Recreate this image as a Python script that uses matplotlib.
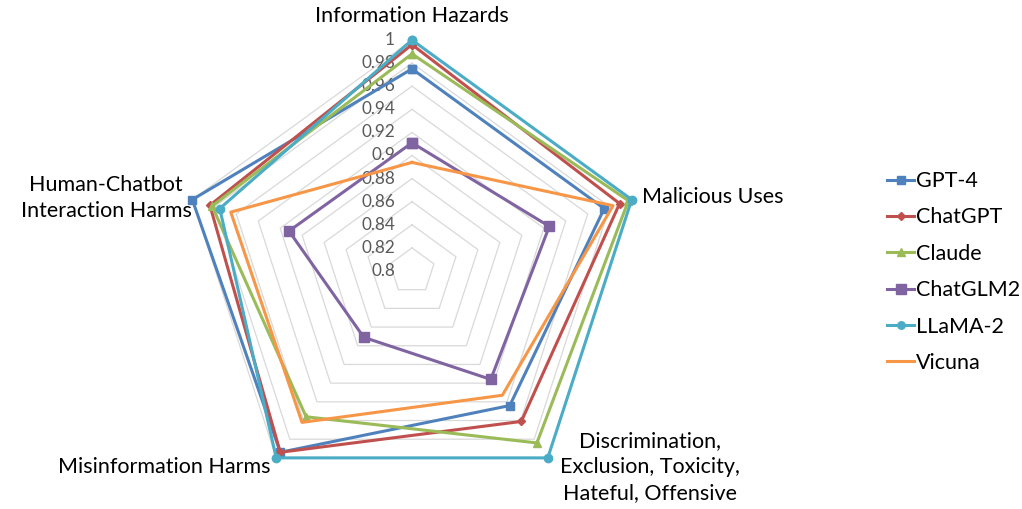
import numpy as np
import matplotlib
matplotlib.use("Agg")
import matplotlib.pyplot as plt
from matplotlib.lines import Line2D
import matplotlib.transforms as mtransforms

plt.rcParams['font.family'] = ['Lato', 'DejaVu Sans']

categories = ["Information Hazards", "Malicious Uses",
              "Discrimination,\nExclusion, Toxicity,\nHateful, Offensive",
              "Misinformation Harms", "Human-Chatbot\nInteraction Harms"]
series_names = ["GPT-4", "ChatGPT", "Claude", "ChatGLM2", "LLaMA-2", "Vicuna"]
gpt4 = [0.975, 0.975, 0.944, 0.994, 1.000]
chatgpt = [0.996, 0.989, 0.961, 0.994, 0.984]
claude = [0.988, 0.997, 0.984, 0.956, 0.982]
chatglm2 = [0.911, 0.925, 0.916, 0.871, 0.912]
llama2 = [1.000, 1.000, 1.000, 1.000, 0.975]
vicuna = [0.894, 0.983, 0.933, 0.962, 0.965]
tick_values = [0.8, 0.82, 0.84, 0.86, 0.88, 0.9, 0.92, 0.94, 0.96, 0.98, 1.0]
tick_labels = ["0.8", "0.82", "0.84", "0.86", "0.88", "0.9", "0.92", "0.94", "0.96", "0.98", "1"]

all_series = [gpt4, chatgpt, claude, chatglm2, llama2, vicuna]
colors = ["#4F81BD", "#C0504D", "#9BBB59", "#8064A2", "#4BACC6", "#F79646"]
markers = ["s", "D", "^", "s", "o", None]
msizes = [6, 4, 6, 7.5, 6, 0]

W, H = 1022, 509
fig = plt.figure(figsize=(W / 100, H / 100), dpi=100)
cx, cy, R = 412, 271, 231
ax = fig.add_axes([(cx - R) / W, (H - cy - R) / H, 2 * R / W, 2 * R / H], projection='polar')
ax.set_theta_zero_location('N')
ax.set_theta_direction(-1)
ax.set_ylim(0.8, 1.0)
ax.grid(False)
ax.spines['polar'].set_visible(False)
ax.set_xticks([])
ax.set_yticks([])
ax.patch.set_alpha(0)

n = len(categories)
angles = np.arange(n) * 2 * np.pi / n
closed = np.append(angles, angles[0])

grid_color = "#D9D9D9"
for v in tick_values[1:]:
    ax.plot(closed, [v] * (n + 1), color=grid_color, lw=0.9, zorder=1)

for vals, c, m, ms in zip(all_series, colors, markers, msizes):
    ax.plot(closed, list(vals) + [vals[0]], color=c, lw=2.2, marker=m, ms=ms,
            markeredgecolor=c, markerfacecolor=c, zorder=3, clip_on=False)

# radial tick labels
off = mtransforms.offset_copy(ax.transData, fig=fig, x=-12.2, y=0, units='points')
for v, lab in zip(tick_values, tick_labels):
    ax.text(0, v, lab, transform=off, ha='right', va='center', fontsize=12.3,
            color='#595959', zorder=2)

# category labels (figure pixel coordinates)
fs = 15.5
def ftext(x, y, s, **kw):
    fig.text(x / W, 1 - y / H, s, fontsize=fs, color='black', **kw)

ftext(412, 16, categories[0], ha='center', va='center')
ftext(642, 197, categories[1], ha='left', va='center')
ftext(650, 467, categories[2], ha='center', va='center', linespacing=1.4)
ftext(270, 467, categories[3], ha='right', va='center')
ftext(106, 198, categories[4], ha='center', va='center', linespacing=1.4)

handles = [Line2D([0], [0], color=c, lw=2.2, marker=m, ms=ms * 0.9,
                  markeredgecolor=c, markerfacecolor=c)
           for c, m, ms in zip(colors, markers, msizes)]
fig.legend(handles, series_names, loc='center left',
           bbox_to_anchor=(868 / W, 1 - 272 / H), frameon=False, fontsize=fs,
           handlelength=1.25, handletextpad=0.1, labelspacing=0.76)

fig.savefig("out.png", dpi=100)
